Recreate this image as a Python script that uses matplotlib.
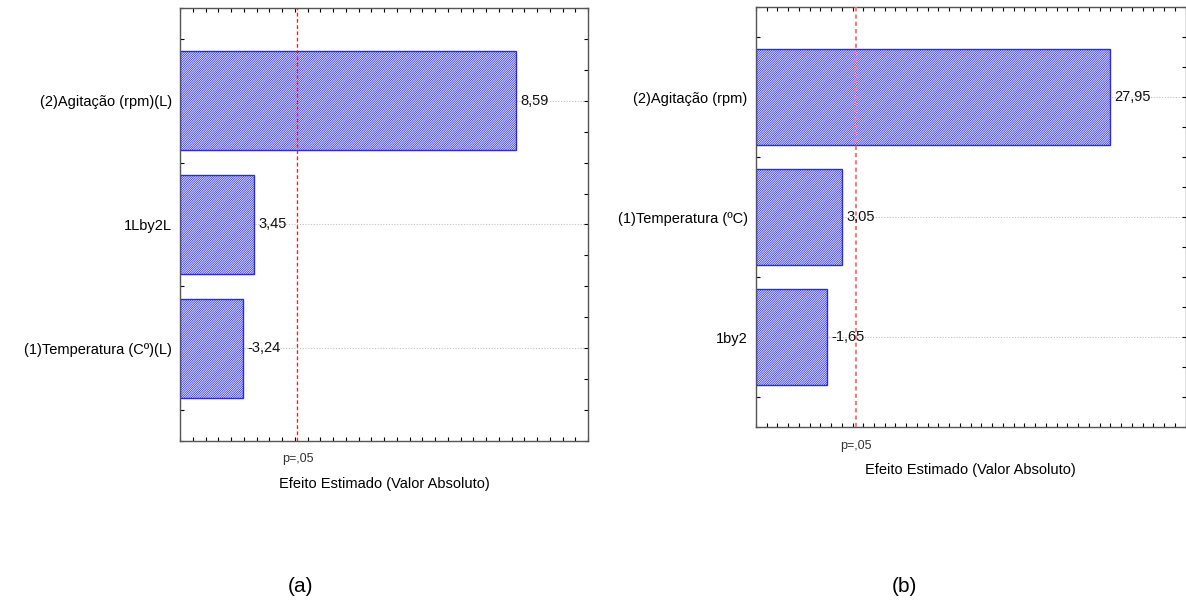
import matplotlib
matplotlib.use("Agg")
import matplotlib.pyplot as plt
from matplotlib.ticker import MultipleLocator

plt.rcParams["font.family"] = ["Liberation Sans", "DejaVu Sans"]
plt.rcParams["hatch.linewidth"] = 0.55

# painel (a)
labels_a = ["(2)Agitação (rpm)(L)", "1Lby2L", "(1)Temperatura (Cº)(L)"]
effects_a = [8.59, 3.45, -3.24]
# painel (b)
labels_b = ["(2)Agitação (rpm)", "(1)Temperatura (ºC)", "1by2"]
effects_b = [27.95, 3.05, -1.65]

p_crit = 4.303  # t critico p=0,05

fig = plt.figure(figsize=(11.86, 6.05), dpi=100)
ax1 = fig.add_axes([0.1518, 0.2711, 0.3440, 0.7157])
ax2 = fig.add_axes([0.6373, 0.2942, 0.3623, 0.6937])


def pareto(ax, labels, effects, xlim, xminor, line_style):
    ypos = list(range(len(labels)))
    # as barras partem da borda esquerda do eixo
    ax.barh(ypos, [abs(v) - xlim[0] for v in effects], height=0.8, left=xlim[0],
            color="white", edgecolor="#2626ff", hatch="/" * 15, linewidth=1.0, zorder=2)
    for y, v in zip(ypos, effects):
        ax.text(abs(v) + (xlim[1] - xlim[0]) * 0.01, y, f"{v:.2f}".replace(".", ","),
                va="center", ha="left", fontsize=10.5, color="#111111", zorder=4)
    ax.axvline(p_crit, zorder=3, **line_style)
    ax.set_xlim(*xlim)
    ax.set_ylim(2.75, -0.75)
    ax.set_yticks(ypos, labels, fontsize=10.5)
    ax.yaxis.set_minor_locator(MultipleLocator(0.25))
    ax.set_xticks([p_crit], ["p=,05"], fontsize=9, color="#333333")
    ax.xaxis.set_minor_locator(MultipleLocator(xminor))
    ax.tick_params(axis="x", which="major", length=0, pad=9)
    ax.tick_params(axis="y", which="major", length=3, direction="in",
                   left=True, right=True, pad=6, width=0.8)
    ax.tick_params(which="minor", length=3, direction="in", width=0.8,
                   top=True, bottom=True, left=True, right=True)
    ax.yaxis.grid(True, linestyle=(0, (1, 1.5)), color="#c0c0c0", linewidth=0.8, zorder=1)
    ax.set_axisbelow(True)
    for s in ax.spines.values():
        s.set_color("#555555")
        s.set_linewidth(1.0)
    ax.set_xlabel("Efeito Estimado (Valor Absoluto)", fontsize=10.5, labelpad=8)


pareto(ax1, labels_a, effects_a, (2, 10), 0.25,
       dict(color="#e8202a", linestyle=(0, (3, 2)), linewidth=0.9))
pareto(ax2, labels_b, effects_b, (-5, 35), 1.0,
       dict(color="#ff7b7b", linestyle=(0, (2, 1.5)), linewidth=1.5))

fig.text(0.2530, 1 - 586 / 605, "(a)", fontsize=15, ha="center", va="center")
fig.text(0.7622, 1 - 586 / 605, "(b)", fontsize=15, ha="center", va="center")

fig.savefig("out.png", dpi=100)
